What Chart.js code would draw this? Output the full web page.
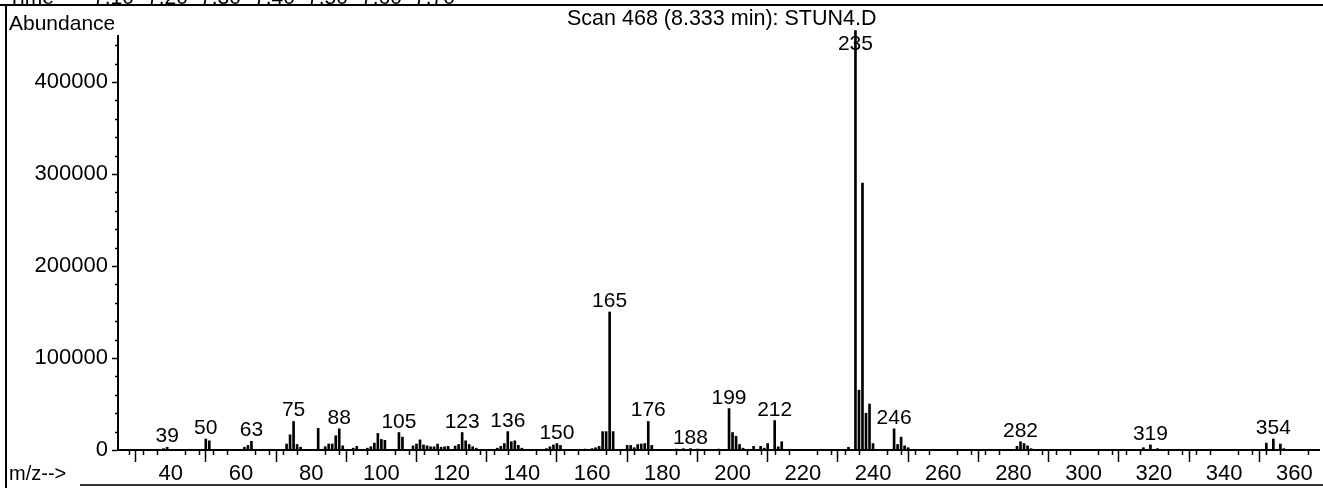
<!DOCTYPE html>
<html>
<head>
<meta charset="utf-8">
<script src="https://cdn.jsdelivr.net/npm/chart.js"></script>
<style>
  html, body { margin: 0; padding: 0; background: #fff; }
  #wrap { position: relative; width: 1323px; height: 488px; overflow: hidden; background: #fff;
          font-family: 'Liberation Sans', Arial, sans-serif; color: #000; }
  #c { position: absolute; left: 0; top: 0; }
  .t { position: absolute; white-space: nowrap; line-height: 1; font-size: 21px; }
  #hdr { position: absolute; left: 0; top: 0; width: 1323px; height: 4px; overflow: hidden; }
  #hdr span { position: absolute; top: -14px; font-size: 21px; line-height: 1; white-space: nowrap; }
  .ln { position: absolute; background: #000; }
</style>
</head>
<body>
<div id="wrap">
  <canvas id="c" width="1323" height="488"></canvas>
  <div id="hdr"></div>
  <div class="ln" style="left:0;top:4px;width:1323px;height:2px;"></div>
  <div class="ln" style="left:5px;top:4px;width:2px;height:484px;"></div>
  <div class="ln" style="left:80px;top:484px;width:1243px;height:2px;background:#333;"></div>
  <div class="t" style="left:9px;top:12px;">Abundance</div>
  <div class="t" style="left:567px;top:8px;font-size:21.5px;">Scan 468 (8.333 min): STUN4.D</div>
  <div class="t" style="left:9px;top:463px;font-size:20px;">m/z--&gt;</div>
</div>
<script>
// ---- data ----
const mz = [38,39,50,51,61,62,63,73,74,75,76,77,82,84,85,86,87,88,89,92,93,96,97,98,99,100,101,105,106,
  109,110,111,112,113,114,115,116,117,118,119,121,122,123,124,125,126,127,133,134,135,136,137,138,139,140,
  147,148,149,150,151,158,160,161,162,163,164,165,166,170,171,172,173,174,175,176,177,184,186,188,190,196,
  199,200,201,202,203,206,208,209,210,212,213,214,233,235,236,237,238,239,240,246,247,248,249,250,
  281,282,283,284,285,317,319,321,352,354,356,357];
const abundance = [1500,3000,12000,10000,3000,5000,9500,6500,16500,31000,6000,3000,23500,3600,6500,6500,15500,23000,4500,2000,4000,2000,3600,7500,18000,11500,10500,19000,14000,
  4500,6500,11000,5500,4500,3500,3500,6500,3000,3500,4000,4300,6000,19000,10000,6000,3600,2000,2000,4000,7000,20000,9000,10000,5000,2000,
  1500,3500,5500,7000,5000,1000,1500,2500,4000,20000,20000,150000,20000,5000,5000,2500,6000,6500,7000,31000,5000,1000,1500,1500,1000,1000,
  45000,19000,15000,6000,2000,4000,4000,2000,7000,32000,3500,9000,3000,456000,65000,290000,40000,50000,7000,23000,6000,14000,4500,2500,
  4000,9000,7000,4500,1500,2500,5500,1500,7500,12000,6500,1500];
const labeledPeaks = [39,50,63,75,88,105,123,136,150,165,176,188,199,212,235,246,282,319,354];
const xTickLabels = [40,60,80,100,120,140,160,180,200,220,240,260,280,300,320,340,360];
const yTickLabels = [0,100000,200000,300000,400000];
const headerLabels = ['Time', '--', '7.10', '7.20', '7.30', '7.40', '7.50', '7.60', '7.70'];
const headerX = [8, 52, 93, 147, 200, 254, 307, 361, 414];

// header (cut off at top in the reference)
const hdr = document.getElementById('hdr');
headerLabels.forEach((s, i) => {
  const sp = document.createElement('span');
  sp.textContent = s; sp.style.left = headerX[i] + 'px';
  hdr.appendChild(sp);
});

const FONT = "'Liberation Sans', Arial, sans-serif";

const decor = {
  id: 'decor',
  afterDraw(chart) {
    const ctx = chart.ctx;
    const xs = chart.scales.x, ys = chart.scales.y;
    const base = ys.getPixelForValue(0);
    const ax = chart.chartArea.left;
    ctx.save();
    ctx.strokeStyle = '#000';
    ctx.lineWidth = 1.5;
    // minor x ticks every 4 units
    for (let v = 28; v <= 364; v += 4) {
      if (v % 20 === 0) continue;
      const px = Math.round(xs.getPixelForValue(v)) + 0.5;
      ctx.beginPath(); ctx.moveTo(px, base); ctx.lineTo(px, base + 5); ctx.stroke();
    }
    // minor y ticks every 20000
    for (let v = 20000; v <= 440000; v += 20000) {
      if (v % 100000 === 0) continue;
      const py = Math.round(ys.getPixelForValue(v)) + 0.5;
      ctx.beginPath(); ctx.moveTo(ax - 3, py); ctx.lineTo(ax, py); ctx.stroke();
    }
    // peak labels
    const meta = chart.getDatasetMeta(0);
    ctx.fillStyle = '#000';
    ctx.font = '21px ' + FONT;
    ctx.textAlign = 'center';
    ctx.textBaseline = 'alphabetic';
    labeledPeaks.forEach(m => {
      const i = mz.indexOf(m);
      if (i < 0) return;
      const el = meta.data[i];
      const yb = Math.max(el.y - 5, 50);
      ctx.fillText(String(m), xs.getPixelForValue(m), yb);
    });
    ctx.restore();
  }
};

new Chart(document.getElementById('c'), {
  type: 'bar',
  data: {
    datasets: [{
      data: mz.map((m, i) => ({ x: m, y: abundance[i] })),
      backgroundColor: '#000',
      borderWidth: 0,
      barThickness: 2,
      clip: false
    }]
  },
  options: {
    responsive: false,
    animation: false,
    devicePixelRatio: 1,
    layout: { padding: { left: 0, top: 36, right: 4, bottom: 0 } },
    plugins: { legend: { display: false }, tooltip: { enabled: false }, title: { display: false } },
    scales: {
      x: {
        type: 'linear', min: 25, max: 367, offset: false,
        afterBuildTicks: s => { s.ticks = xTickLabels.map(v => ({ value: v })); },
        afterFit: s => { s.height = 38; },
        grid: { display: true, drawOnChartArea: false, drawTicks: true, tickLength: 12, tickColor: '#000', tickWidth: 1.5 },
        border: { display: true, color: '#000', width: 2 },
        ticks: { color: '#000', font: { family: FONT, size: 22 }, padding: -1, maxRotation: 0, autoSkip: false }
      },
      y: {
        type: 'linear', min: 0, max: 450000,
        afterBuildTicks: s => { s.ticks = yTickLabels.map(v => ({ value: v })); },
        afterFit: s => { s.width = 118; },
        grid: { display: true, drawOnChartArea: false, drawTicks: true, tickLength: 6, tickColor: '#000', tickWidth: 1.5 },
        border: { display: true, color: '#000', width: 2 },
        ticks: { color: '#000', font: { family: FONT, size: 22 }, padding: 4, callback: v => String(v) }
      }
    }
  },
  plugins: [decor]
});
</script>
</body>
</html>
